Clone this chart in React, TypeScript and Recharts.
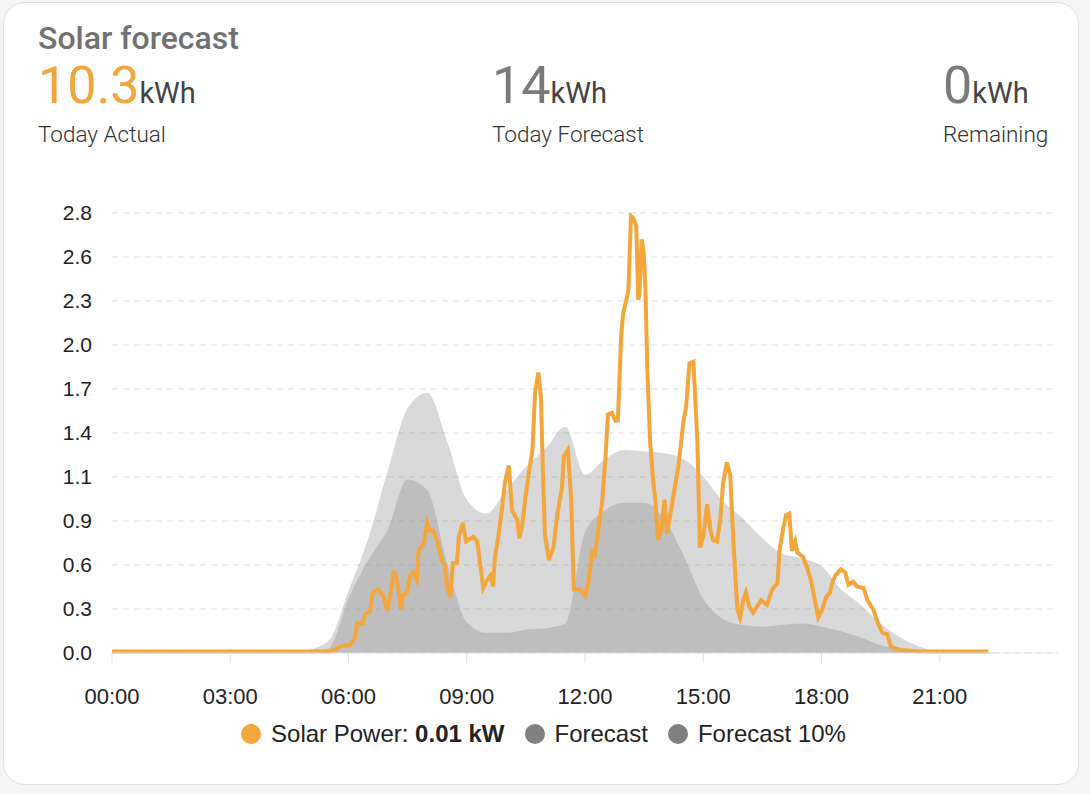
import React from 'react';
import { ComposedChart, Area, Line, XAxis, YAxis, CartesianGrid, Legend } from 'recharts';

// half-hourly forecast (kW)
const FORECAST_TIMES = [
  '04:30', '05:00', '05:30', '06:00', '06:30', '07:00', '07:30', '08:00', '08:30', '09:00',
  '09:30', '10:00', '10:30', '11:00', '11:30', '12:00', '12:30', '13:00', '13:30', '14:00',
  '14:30', '15:00', '15:30', '16:00', '16:30', '17:00', '17:30', '18:00', '18:30', '19:00',
  '19:30', '20:00', '20:30', '21:00',
];
const FORECAST = [
  0, 0.02, 0.08, 0.4, 0.74, 1.18, 1.58, 1.68, 1.37, 0.99,
  0.9, 1.05, 1.2, 1.32, 1.46, 1.15, 1.25, 1.31, 1.3, 1.29,
  1.25, 1.14, 0.98, 0.87, 0.74, 0.64, 0.61, 0.56, 0.41, 0.31,
  0.19, 0.1, 0.04, 0,
];
const FORECAST_10 = [
  0, 0, 0.03, 0.35, 0.6, 0.8, 1.12, 1.05, 0.58, 0.2,
  0.13, 0.13, 0.15, 0.16, 0.19, 0.78, 0.92, 0.97, 0.97, 0.87,
  0.63, 0.35, 0.22, 0.18, 0.17, 0.18, 0.19, 0.17, 0.14, 0.1,
  0.05, 0.02, 0, 0,
];

// measured solar power (kW)
const SOLAR_TIMES = [
  '00:00', '01:00', '02:00', '03:00', '04:00', '05:00', '05:32', '05:43', '05:52', '06:02',
  '06:10', '06:13', '06:22', '06:25', '06:33', '06:37', '06:45', '06:53', '06:59', '07:03',
  '07:09', '07:14', '07:20', '07:23', '07:29', '07:34', '07:38', '07:44', '07:47', '07:54',
  '08:00', '08:04', '08:09', '08:15', '08:22', '08:27', '08:30', '08:35', '08:39', '08:45',
  '08:48', '08:54', '08:59', '09:10', '09:16', '09:20', '09:25', '09:31', '09:36', '09:40',
  '09:43', '09:48', '09:54', '09:58', '10:04', '10:09', '10:17', '10:20', '10:24', '10:29',
  '10:33', '10:40', '10:44', '10:49', '10:53', '10:56', '10:59', '11:05', '11:12', '11:18',
  '11:25', '11:28', '11:34', '11:39', '11:43', '11:53', '12:00', '12:05', '12:11', '12:15',
  '12:20', '12:26', '12:31', '12:35', '12:41', '12:46', '12:50', '12:55', '12:58', '13:03',
  '13:06', '13:10', '13:13', '13:18', '13:21', '13:23', '13:26', '13:29', '13:32', '13:35',
  '13:39', '13:44', '13:47', '13:51', '13:56', '14:01', '14:05', '14:10', '14:16', '14:22',
  '14:30', '14:34', '14:39', '14:45', '14:51', '14:55', '15:00', '15:06', '15:11', '15:15',
  '15:21', '15:26', '15:30', '15:36', '15:41', '15:46', '15:52', '15:56', '16:01', '16:05',
  '16:10', '16:16', '16:22', '16:28', '16:37', '16:45', '16:53', '16:56', '17:02', '17:06',
  '17:11', '17:15', '17:20', '17:23', '17:32', '17:38', '17:44', '17:49', '17:55', '18:01',
  '18:07', '18:13', '18:16', '18:21', '18:29', '18:36', '18:41', '18:48', '18:54', '19:04',
  '19:10', '19:19', '19:26', '19:33', '19:40', '19:46', '19:52', '20:00', '20:30', '21:00',
  '21:30', '22:14',
];
const SOLAR_KW = [
  0.01, 0.01, 0.01, 0.01, 0.01, 0.01, 0.01, 0.03, 0.05, 0.05,
  0.1, 0.19, 0.19, 0.25, 0.27, 0.39, 0.41, 0.37, 0.27, 0.36,
  0.53, 0.47, 0.28, 0.37, 0.39, 0.5, 0.52, 0.47, 0.67, 0.7,
  0.84, 0.79, 0.79, 0.72, 0.6, 0.56, 0.42, 0.36, 0.58, 0.58,
  0.75, 0.84, 0.72, 0.75, 0.72, 0.59, 0.42, 0.47, 0.5, 0.43,
  0.62, 0.75, 0.94, 1.1, 1.21, 0.92, 0.86, 0.74, 0.81, 0.99,
  1.12, 1.31, 1.68, 1.81, 1.65, 1.16, 0.77, 0.6, 0.68, 0.9,
  1.07, 1.27, 1.31, 0.99, 0.41, 0.41, 0.37, 0.45, 0.65, 0.63,
  0.79, 0.97, 1.25, 1.54, 1.55, 1.5, 1.5, 2.04, 2.19, 2.28,
  2.34, 2.82, 2.81, 2.76, 2.28, 2.32, 2.67, 2.6, 2.36, 1.81,
  1.37, 1.1, 0.99, 0.73, 0.79, 0.99, 0.77, 0.9, 1.05, 1.2,
  1.5, 1.59, 1.87, 1.88, 1.37, 0.68, 0.75, 0.96, 0.79, 0.73,
  0.72, 0.86, 1.09, 1.23, 1.15, 0.71, 0.28, 0.23, 0.34, 0.39,
  0.3, 0.26, 0.3, 0.34, 0.31, 0.41, 0.45, 0.66, 0.81, 0.89,
  0.9, 0.66, 0.72, 0.65, 0.62, 0.55, 0.47, 0.36, 0.23, 0.28,
  0.36, 0.39, 0.45, 0.5, 0.54, 0.52, 0.44, 0.46, 0.43, 0.42,
  0.34, 0.28, 0.19, 0.13, 0.12, 0.04, 0.03, 0.02, 0.01, 0.01,
  0.01, 0.01,
];

const X_TICKS = ['00:00', '03:00', '06:00', '09:00', '12:00', '15:00', '18:00', '21:00'];
const Y_TICKS = [0, 0.284, 0.568, 0.852, 1.136, 1.42, 1.704, 1.988, 2.272, 2.556, 2.84];

const STATS = [
  { value: '10.3', label: 'Today Actual', color: '#f2a63b', left: 38 },
  { value: '14', label: 'Today Forecast', color: '#7a7a7a', left: 492 },
  { value: '0', label: 'Remaining', color: '#7a7a7a', left: 943 },
];

const ORANGE = '#f2a63b';
const GRAY = '#808080';

const toMinutes = (s: string) => {
  const [h, m] = s.split(':').map(Number);
  return h * 60 + m;
};
const fmtTime = (v: number) =>
  `${String(Math.floor(v / 60)).padStart(2, '0')}:${String(v % 60).padStart(2, '0')}`;

// merge both series onto one time axis
const rowsByTime = new Map<number, any>();
FORECAST_TIMES.forEach((t, i) => {
  const k = toMinutes(t);
  rowsByTime.set(k, { ...(rowsByTime.get(k) || { t: k }), forecast: FORECAST[i], forecast10: FORECAST_10[i] });
});
SOLAR_TIMES.forEach((t, i) => {
  const k = toMinutes(t);
  rowsByTime.set(k, { ...(rowsByTime.get(k) || { t: k }), kw: SOLAR_KW[i] });
});
const chartData = [...rowsByTime.values()].sort((a, b) => a.t - b.t);

const currentKw = SOLAR_KW[SOLAR_KW.length - 1];

const LegendContent = () => {
  const items = [
    { color: ORANGE, name: 'Solar Power: ', value: `${currentKw.toFixed(2)} kW` },
    { color: GRAY, name: 'Forecast' },
    { color: GRAY, name: 'Forecast 10%' },
  ];
  return (
    <div style={{ display: 'flex', justifyContent: 'center', alignItems: 'center', gap: 20, fontSize: 24, color: '#222', lineHeight: '26px' }}>
      {items.map((it) => (
        <div key={it.name} style={{ display: 'flex', alignItems: 'center' }}>
          <span style={{ width: 20, height: 20, borderRadius: '50%', background: it.color, marginRight: 10, display: 'inline-block' }} />
          <span>
            {it.name}
            {it.value && <b>{it.value}</b>}
          </span>
        </div>
      ))}
    </div>
  );
};

export default function App() {
  return (
    <div style={{ position: 'relative', width: 1090, height: 794, fontFamily: 'Roboto, sans-serif' }}>
      <style>{'body{margin:0;background:#f5f5f5}'}</style>
      <div
        style={{
          position: 'absolute', left: 3, top: 2, width: 1074, height: 781,
          background: '#fff', border: '1px solid #e0e0e0', borderRadius: 22,
        }}
      />
      <div style={{ position: 'absolute', left: 38, top: 22, fontSize: 32, fontWeight: 500, color: '#717171', lineHeight: '32px' }}>
        Solar forecast
      </div>
      {STATS.map((s) => (
        <div key={s.label} style={{ position: 'absolute', left: s.left, top: 60 }}>
          <div style={{ lineHeight: '52px', whiteSpace: 'nowrap' }}>
            <span style={{ fontSize: 52, color: s.color }}>{s.value}</span>
            <span style={{ fontSize: 29, color: '#444' }}>kWh</span>
          </div>
          <div style={{ fontSize: 22.5, color: '#333', marginTop: -3, fontWeight: 300 }}>{s.label}</div>
        </div>
      ))}
      <div style={{ position: 'absolute', left: 0, top: 180, fontFamily: '"Liberation Sans", Arial, sans-serif' }}>
        <ComposedChart width={1086} height={600} data={chartData} margin={{ top: 33, right: 28, bottom: 33, left: 29 }}>
          <CartesianGrid vertical={false} stroke="#e0e0e0" strokeDasharray="6 5" />
          <XAxis
            dataKey="t"
            type="number"
            domain={[0, 1440]}
            ticks={X_TICKS.map(toMinutes)}
            tickFormatter={fmtTime}
            stroke="#e0e0e0"
            tickSize={10}
            tickMargin={25}
            height={68}
            tick={{ fill: '#222', fontSize: 22 }}
          />
          <YAxis
            domain={[0, Y_TICKS[Y_TICKS.length - 1]]}
            ticks={Y_TICKS}
            tickFormatter={(v: number) => v.toFixed(1)}
            axisLine={false}
            tickLine={false}
            tickSize={0}
            tickMargin={20}
            width={83}
            tick={{ fill: '#222', fontSize: 21 }}
          />
          <Legend verticalAlign="bottom" content={<LegendContent />} />
          <Area type="monotone" dataKey="forecast" stroke="none" fill={GRAY} fillOpacity={0.3} connectNulls isAnimationActive={false} />
          <Area type="monotone" dataKey="forecast10" stroke="none" fill={GRAY} fillOpacity={0.3} connectNulls isAnimationActive={false} />
          <Line type="linear" dataKey="kw" stroke={ORANGE} strokeWidth={4} dot={false} connectNulls isAnimationActive={false} />
        </ComposedChart>
      </div>
    </div>
  );
}
